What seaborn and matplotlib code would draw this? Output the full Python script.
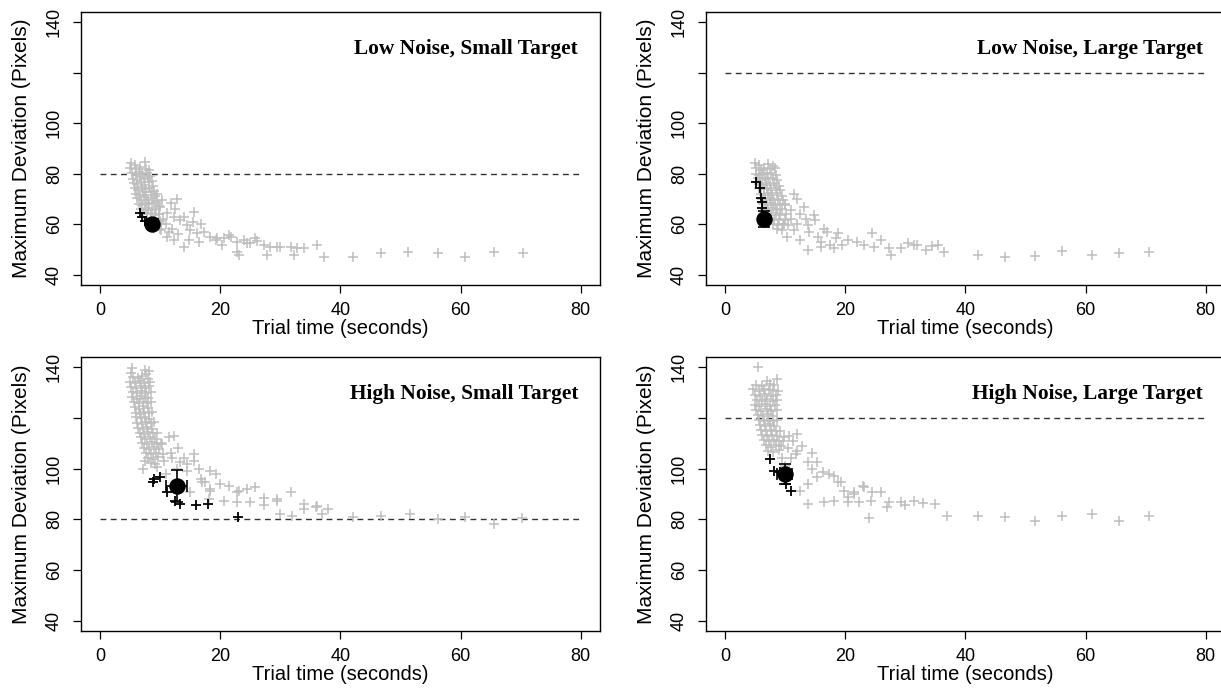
import matplotlib
matplotlib.use("Agg")
import matplotlib.pyplot as plt
import seaborn as sns
import pandas as pd

# ---------------- data ----------------
titles = ["Low Noise, Small Target", "Low Noise, Large Target",
          "High Noise, Small Target", "High Noise, Large Target"]
thresholds = [80, 120, 80, 120]
x_ticks = [0, 20, 40, 60, 80]
y_ticks = [40, 60, 80, 100, 120, 140]
y_tick_labels = ["40", "60", "80", "100", "", "140"]
x_label = "Trial time (seconds)"
y_label = "Maximum Deviation (Pixels)"

# Low noise, small target (gray = individual trials)
tl_gray_x = [5.2, 5.8, 7.4,
             5.0, 6.0, 6.6, 7.6, 8.2,
             5.3, 5.9, 6.4, 7.0, 7.8, 8.3,
             5.5, 6.1, 6.7, 7.3, 8.0, 8.6,
             5.6, 6.2, 6.8, 7.4, 8.1, 8.8,
             5.8, 6.3, 6.9, 7.5, 8.2, 9.0,
             6.0, 6.5, 7.1, 7.7, 8.4, 9.2,
             6.2, 6.8, 7.3, 7.9, 8.6, 9.5,
             6.5, 7.0, 7.6, 8.2, 8.9, 9.8,
             6.8, 7.4, 8.0, 8.6, 9.3,
             7.2, 7.8, 8.5, 9.1, 9.8,
             7.8, 8.4, 9.2, 10.0,
             8.4, 9.2, 10.1,
             9.0, 10.2,
             10.3, 11.7, 15.6, 11.1, 12.2, 13.3, 14.4, 15.0, 16.1, 17.2,
             18.3, 19.4, 20.6, 21.7, 22.8, 23.9, 25.0, 26.1, 27.2, 28.3,
             30.0, 31.7, 32.8, 33.9, 22.8, 27.8, 32.2, 13.9, 12.2, 11.1,
             19.2, 20.3, 21.4, 23.1, 24.4, 25.8, 29.4, 36.1, 37.2, 42.0,
             46.7, 51.3, 56.2, 60.8, 65.5, 70.3,
             9.5, 10.0, 10.5, 11.0, 12.0, 13.0, 12.5, 14.0, 10.0, 11.5,
             9.8, 14.8, 16.5, 15.5, 12.8, 16.8]
tl_gray_y = [84.1, 83.4, 84.6,
             82.3, 81.8, 82.6, 82.0, 81.4,
             80.2, 79.6, 80.8, 79.9, 80.5, 79.3,
             78.1, 77.6, 78.7, 77.9, 78.4, 77.2,
             76.3, 75.8, 76.6, 75.5, 76.9, 75.1,
             74.2, 73.7, 74.6, 73.9, 74.4, 73.3,
             72.1, 71.8, 72.6, 71.5, 72.9, 71.2,
             70.3, 69.8, 70.7, 69.6, 70.4, 69.1,
             68.2, 67.7, 68.6, 67.9, 68.3, 67.4,
             66.1, 65.8, 66.4, 65.6, 66.2,
             64.3, 63.9, 64.5, 63.6, 64.1,
             62.2, 61.8, 62.4, 61.5,
             60.3, 59.7, 60.1,
             58.4, 57.8,
             69.6, 68.3, 65.0, 64.4, 63.0, 61.7, 59.8, 57.8, 56.5, 57.1,
             55.1, 54.5, 54.5, 55.0, 53.2, 53.8, 52.5, 53.6, 51.9, 51.2,
             51.2, 51.2, 50.5, 50.5, 49.2, 47.9, 47.9, 51.2, 53.8, 55.1,
             53.8, 51.9, 55.8, 47.9, 52.5, 54.5, 51.2, 51.9, 47.2, 47.2,
             48.6, 49.0, 48.6, 47.2, 49.0, 48.6,
             72.0, 67.0, 62.0, 60.0, 58.0, 56.0, 66.0, 63.0, 58.0, 57.0,
             64.0, 54.0, 53.0, 61.0, 70.0, 60.0]
tl_black_x = [6.6, 6.9, 7.5, 8.05, 9.0]
tl_black_y = [64.6, 63.0, 61.5, 60.4, 59.0]

# Low noise, large target
tr_gray_x = [5.0, 5.6, 7.2, 8.0,
             5.2, 5.9, 6.5, 7.4, 8.3,
             5.1, 5.7, 6.3, 6.9, 7.7, 8.5,
             5.4, 6.0, 6.6, 7.2, 7.9, 8.6,
             5.6, 6.2, 6.8, 7.5, 8.2, 9.0,
             5.7, 6.4, 7.0, 7.6, 8.4, 9.2,
             5.9, 6.5, 7.1, 7.8, 8.6, 9.4,
             6.1, 6.7, 7.4, 8.0, 8.8, 9.6,
             6.3, 7.0, 7.6, 8.3, 9.1, 10.0,
             6.6, 7.2, 7.9, 8.6, 9.4,
             7.0, 7.7, 8.4, 9.2, 10.1,
             7.5, 8.2, 9.0, 9.9,
             8.0, 8.8, 9.6, 10.4,
             8.6, 9.4,
             12.0, 14.8, 15.0, 13.7, 17.0, 18.7, 18.4, 20.4, 22.0, 23.1,
             24.5, 25.9, 24.8, 27.3, 29.3, 27.6, 31.5, 13.7, 15.9, 18.1,
             12.5, 10.3, 11.4, 10.9, 13.1, 10.0, 11.0, 12.0, 12.5, 14.0,
             15.5, 16.5, 9.8, 11.5, 13.5, 16.0, 17.5, 19.5, 30.5, 32.0,
             33.5, 34.5, 35.5, 36.5, 42.0, 46.5, 51.5, 56.0, 61.0, 65.5,
             70.5]
tr_gray_y = [84.2, 83.5, 84.0, 83.1,
             82.1, 81.6, 82.4, 81.8, 82.2,
             80.1, 79.7, 80.5, 79.8, 80.3, 79.5,
             78.2, 77.7, 78.5, 77.9, 78.3, 77.4,
             76.1, 75.7, 76.4, 75.6, 76.2, 75.3,
             74.2, 73.8, 74.5, 73.7, 74.3, 73.5,
             72.1, 71.7, 72.4, 71.6, 72.2, 71.4,
             70.2, 69.8, 70.5, 69.7, 70.1, 69.5,
             68.1, 67.7, 68.4, 67.8, 68.2, 67.5,
             66.2, 65.8, 66.4, 65.7, 66.1,
             64.2, 63.8, 64.4, 63.7, 64.0,
             62.1, 61.7, 62.3, 61.8,
             60.2, 59.7, 60.3, 59.8,
             58.3, 57.9,
             69.9, 63.7, 61.7, 59.8, 57.1, 56.5, 54.5, 53.8, 53.2, 51.9,
             56.5, 53.8, 51.2, 50.5, 50.5, 47.9, 51.9, 49.9, 51.2, 50.5,
             53.8, 55.1, 57.8, 65.7, 67.0, 68.0, 62.0, 60.0, 64.0, 57.0,
             55.0, 58.0, 60.0, 72.0, 62.0, 53.0, 52.0, 52.0, 52.5, 52.0,
             50.0, 51.5, 52.0, 49.0, 48.0, 47.0, 47.5, 49.5, 48.0, 48.5,
             49.0]
tr_black_x = [5.2, 5.85, 6.0, 6.1, 6.1]
tr_black_y = [76.6, 74.3, 70.4, 69.0, 66.4]

# High noise, small target
bl_gray_x = [5.3, 7.4,
             5.1, 7.6, 8.2,
             5.4, 6.3, 7.0, 8.0,
             5.0, 5.8, 6.6, 7.3, 8.3,
             5.2, 6.0, 6.8, 7.5, 8.1,
             5.5, 6.2, 6.9, 7.7, 8.4,
             5.3, 6.1, 6.7, 7.4, 8.0,
             5.6, 6.4, 7.1, 7.8, 8.5,
             5.8, 6.5, 7.2, 7.9,
             5.9, 6.6, 7.3, 8.1, 8.7,
             6.0, 6.8, 7.5, 8.2,
             6.2, 6.9, 7.6, 8.4, 9.0,
             6.3, 7.1, 7.8, 8.6,
             6.6, 7.3, 8.0, 8.8, 9.4,
             6.8, 7.5, 8.3, 9.1,
             7.0, 7.8, 8.6, 9.5, 10.2,
             7.3, 8.1, 9.0, 9.8,
             7.6, 8.5, 9.3, 10.4,
             8.0, 8.8, 9.7,
             8.4, 9.2,
             11.4, 12.2, 10.3, 15.6, 15.6, 14.4, 13.3, 10.6, 7.5, 7.2,
             9.4, 12.8, 14.4, 18.3, 19.2, 16.7, 17.5, 20.0, 21.4, 22.8,
             24.4, 25.8, 31.7, 15.0, 18.3, 20.6, 22.8, 25.0, 27.2, 29.4,
             33.9, 17.0, 18.3, 23.1, 27.2, 29.4, 36.1, 18.1, 11.8, 13.0,
             14.0, 16.5, 11.0, 12.0, 30.0, 32.0, 34.0, 36.0, 37.0, 38.0,
             42.0, 46.7, 51.5, 56.2, 60.8, 65.5, 70.2]
bl_gray_y = [139.6, 138.9,
             137.8, 137.2, 138.3,
             136.1, 135.6, 136.4, 135.3,
             134.2, 133.7, 134.5, 133.9, 134.0,
             132.1, 131.6, 132.4, 131.8, 132.7,
             130.3, 129.7, 130.6, 129.9, 130.1,
             128.2, 127.6, 128.5, 127.8, 128.0,
             126.1, 125.7, 126.4, 125.9, 126.3,
             124.2, 123.6, 124.5, 123.8,
             122.1, 121.7, 122.4, 121.9, 122.2,
             120.3, 119.8, 120.5, 119.6,
             118.1, 117.7, 118.4, 117.8, 118.2,
             116.2, 115.8, 116.5, 115.7,
             114.1, 113.7, 114.4, 113.9, 114.2,
             112.3, 111.8, 112.5, 111.6,
             110.1, 109.7, 110.4, 109.8, 110.2,
             108.2, 107.8, 108.4, 107.6,
             106.1, 105.7, 106.3, 105.9,
             104.2, 103.8, 104.4,
             102.1, 101.7,
             112.3, 112.9, 109.6, 105.7, 103.1, 101.8, 102.5, 103.1, 103.1, 99.8,
             100.5, 99.8, 99.2, 99.2, 97.9, 95.9, 94.6, 93.9, 93.3, 90.7,
             92.0, 92.6, 90.7, 90.7, 92.0, 87.4, 86.7, 86.7, 85.8, 87.4,
             86.1, 94.6, 91.3, 91.3, 88.5, 88.0, 85.4, 88.0, 106.0, 108.0,
             104.0, 100.0, 98.0, 104.0, 82.0, 81.5, 84.0, 85.0, 82.0, 84.0,
             80.8, 81.2, 82.0, 80.0, 80.8, 78.0, 80.5]
bl_black_x = [8.9, 10.0, 8.8, 11.1, 12.5, 13.3, 16.0, 18.0, 23.0]
bl_black_y = [95.9, 96.6, 94.6, 90.7, 87.4, 86.1, 85.5, 86.1, 81.0]

# High noise, large target
br_gray_x = [5.4,
             7.0, 8.6,
             5.2, 6.1, 7.4, 8.2,
             4.7, 5.6, 6.5, 7.3, 8.0, 8.8,
             5.0, 5.8, 6.7, 7.6, 8.5,
             5.3, 6.2, 7.0, 7.9, 8.7,
             4.9, 5.7, 6.6, 7.4, 8.3,
             5.2, 6.0, 6.9, 7.7, 8.6,
             5.5, 6.3, 7.1, 7.9,
             5.6, 6.4, 7.2, 8.0, 8.7,
             5.8, 6.6, 7.4, 8.2,
             6.0, 6.8, 7.6, 8.4, 9.1,
             6.2, 7.0, 7.8, 8.7,
             6.5, 7.3, 8.1, 9.0, 9.7,
             6.8, 7.6, 8.4, 9.3,
             7.2, 8.0, 8.9,
             10.6, 12.0, 9.75, 11.2, 12.0, 11.7, 13.7, 15.3, 14.5, 16.2,
             17.3, 15.3, 13.7, 18.7, 19.8, 21.5, 23.1, 24.5, 25.9, 12.5,
             13.7, 16.4, 18.1, 20.4, 22.3, 24.2, 27.3, 29.3, 31.5, 18.1,
             19.2, 22.9, 20.4, 21.5, 10.5, 11.0, 12.8, 10.0, 14.5, 9.5,
             27.0, 30.0, 33.0, 35.0, 37.0, 24.0, 42.0, 46.5, 51.5, 56.0,
             61.0, 65.5, 70.5]
br_gray_y = [140.0,
             134.5, 135.2,
             133.1, 132.6, 133.4, 132.8,
             131.2, 130.7, 131.4, 130.9, 131.1, 130.6,
             129.2, 128.7, 129.4, 128.8, 129.1,
             127.1, 126.6, 127.3, 126.8, 127.0,
             125.2, 124.6, 125.4, 124.8, 125.0,
             123.1, 122.7, 123.4, 122.8, 123.2,
             121.2, 120.7, 121.4, 120.9,
             119.1, 118.7, 119.3, 118.8, 119.0,
             117.2, 116.7, 117.4, 116.9,
             115.1, 114.7, 115.3, 114.8, 115.0,
             113.2, 112.7, 113.4, 112.9,
             111.1, 110.7, 111.3, 110.8, 111.0,
             109.2, 108.7, 109.4, 108.9,
             107.1, 106.6, 107.3,
             112.9, 113.6, 112.3, 111.0, 107.0, 105.7, 102.5, 102.5, 99.8, 98.5,
             97.9, 96.6, 93.9, 94.6, 91.3, 90.7, 92.6, 90.7, 90.7, 91.3,
             86.1, 86.7, 87.4, 86.7, 86.7, 87.4, 86.7, 86.7, 87.4, 97.2,
             94.6, 93.3, 89.0, 90.0, 108.0, 104.0, 109.0, 101.0, 106.0, 104.0,
             85.0, 85.5, 86.5, 86.0, 81.5, 80.5, 81.5, 81.0, 79.5, 81.5,
             82.0, 79.5, 81.5]
br_black_x = [7.4, 8.1, 9.1, 10.2, 11.0]
br_black_y = [103.7, 99.2, 98.5, 94.0, 91.1]

# condition means with error bars
mean_x = [8.7, 6.5, 12.7, 9.9]
mean_y = [60.0, 62.2, 93.0, 97.9]
err_x = [0.9, 0.6, 1.7, 1.25]
err_y = [1.2, 3.2, 6.3, 4.0]

gray_x = [tl_gray_x, tr_gray_x, bl_gray_x, br_gray_x]
gray_y = [tl_gray_y, tr_gray_y, bl_gray_y, br_gray_y]
black_x = [tl_black_x, tr_black_x, bl_black_x, br_black_x]
black_y = [tl_black_y, tr_black_y, bl_black_y, br_black_y]

# ---------------- style ----------------
sns.set_style("ticks")
plt.rcParams["font.family"] = ["Liberation Sans", "DejaVu Sans"]
plt.rcParams["axes.linewidth"] = 1.0
plt.rcParams["text.color"] = "black"
plt.rcParams["axes.labelcolor"] = "black"
plt.rcParams["xtick.color"] = "black"
plt.rcParams["ytick.color"] = "black"
plt.rcParams["axes.edgecolor"] = "black"

fig = plt.figure(figsize=(12.21, 6.90), dpi=100)
W, H = 1221.0, 690.0
boxes = [
    (81, 12, 600, 285),
    (706, 12, 1225, 285),
    (81, 357, 600, 631),
    (706, 357, 1225, 631),
]

for i in range(4):
    l, t, r, b = boxes[i]
    ax = fig.add_axes([l / W, 1 - b / H, (r - l) / W, (b - t) / H])
    df_g = pd.DataFrame({"t": gray_x[i], "d": gray_y[i]})
    df_b = pd.DataFrame({"t": black_x[i], "d": black_y[i]})
    df_m = pd.DataFrame({"t": [mean_x[i]], "d": [mean_y[i]]})

    ax.hlines(thresholds[i], 0, 80, colors="#333333",
              linestyles=(0, (4.2, 3.2)), linewidth=1.0, zorder=1)
    sns.scatterplot(data=df_g, x="t", y="d", marker="+", color="#BEBEBE",
                    s=55, linewidth=1.1, ax=ax, zorder=2, legend=False)
    sns.scatterplot(data=df_b, x="t", y="d", marker="+", color="black",
                    s=55, linewidth=1.3, ax=ax, zorder=3, legend=False)
    ax.errorbar(mean_x[i], mean_y[i], xerr=err_x[i], yerr=err_y[i],
                fmt="none", ecolor="black", elinewidth=1.2, capsize=4,
                capthick=1.2, zorder=4)
    sns.scatterplot(data=df_m, x="t", y="d", marker="o", color="black",
                    s=140, linewidth=0, ax=ax, zorder=5, legend=False)

    ax.set_xlim(-3.2, 83.2)
    ax.set_ylim(36, 144)
    ax.set_xticks(x_ticks)
    ax.set_xticklabels([str(v) for v in x_ticks])
    ax.set_yticks(y_ticks)
    ax.set_yticklabels(y_tick_labels)
    for spine in ax.spines.values():
        spine.set_visible(True)
        spine.set_color("black")
        spine.set_linewidth(1.0)
    ax.tick_params(axis="both", direction="out", length=6, width=0.9,
                   color="black", labelcolor="black", labelsize=13, pad=7)
    ax.tick_params(axis="x", pad=6)
    for lab in ax.get_yticklabels():
        lab.set_rotation(90)
        lab.set_va("center")
    ax.set_xlabel(x_label, fontsize=14.5, labelpad=0)
    ax.set_ylabel(y_label, fontsize=15, labelpad=11)
    ax.text(0.958, 0.864, titles[i], transform=ax.transAxes, ha="right",
            va="center", fontsize=15.4, fontweight="bold",
            family=["Liberation Serif", "DejaVu Serif"])

fig.savefig("out.png", dpi=100)
